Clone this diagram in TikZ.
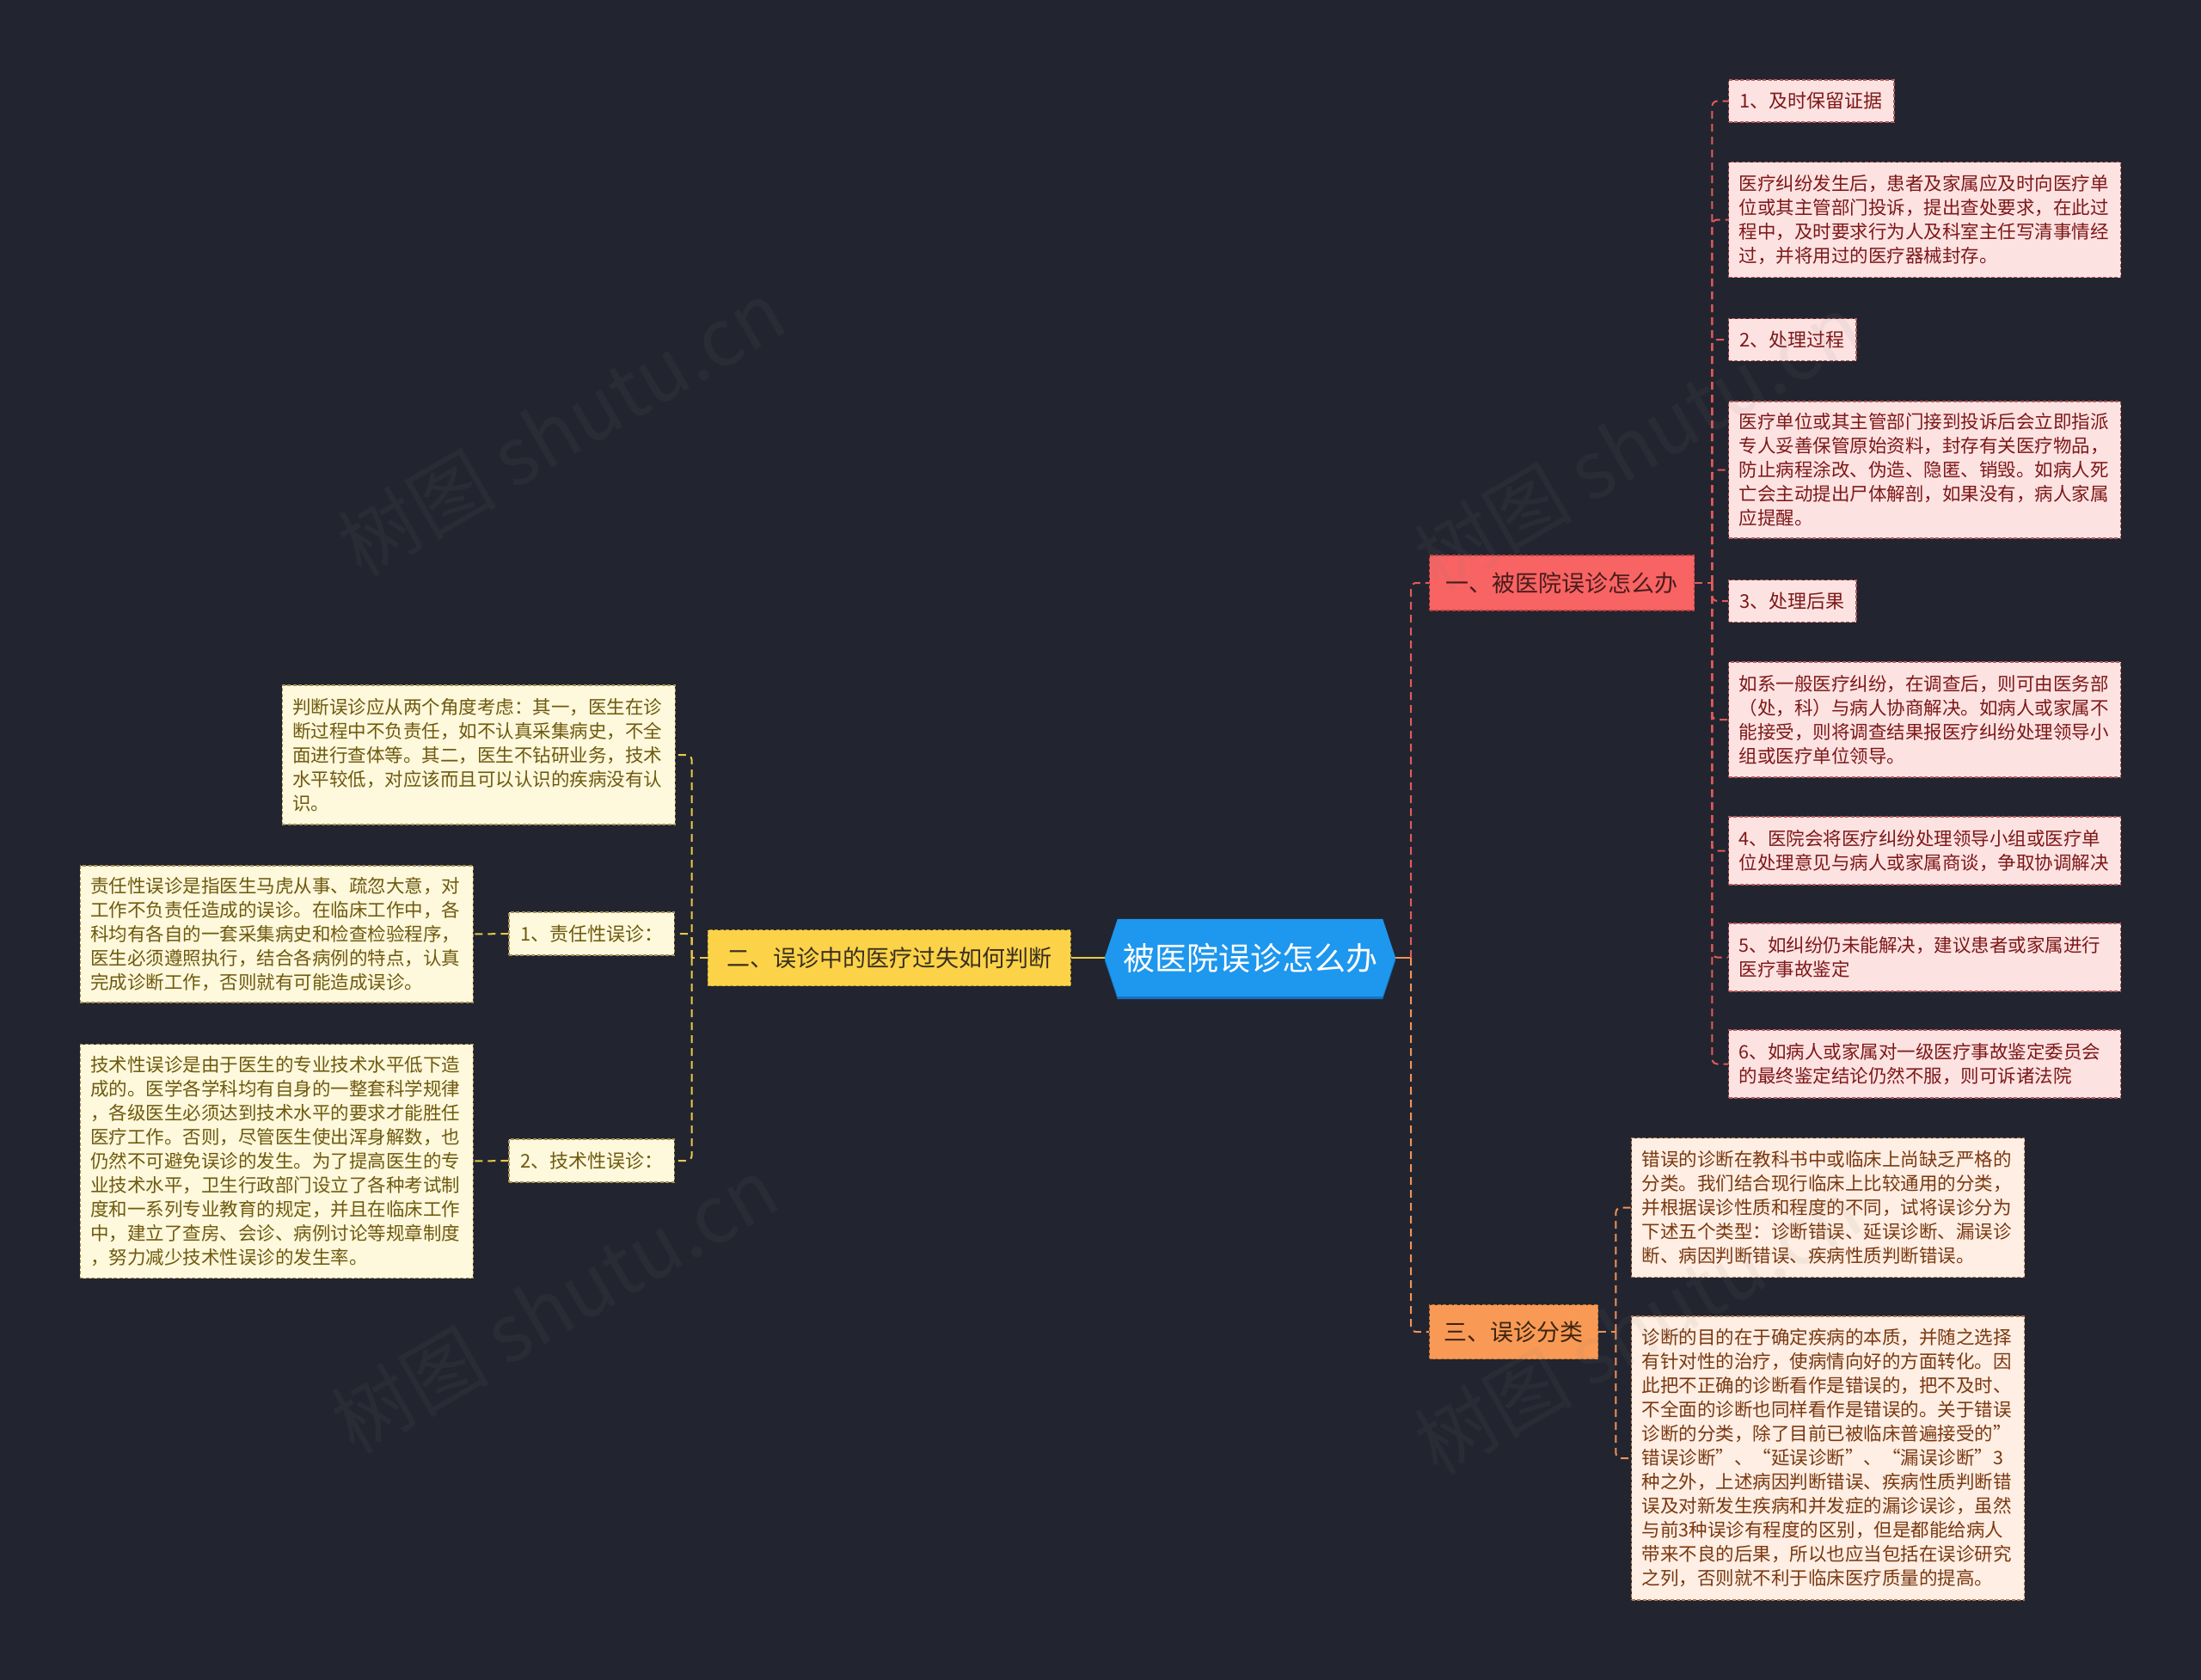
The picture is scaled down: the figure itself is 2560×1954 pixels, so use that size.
\documentclass[tikz,border=0pt]{standalone}
\usepackage{fontspec}
\setmainfont{Noto Sans CJK SC}
\usetikzlibrary{backgrounds,calc}
\definecolor{bgc}{HTML}{22252F}
\definecolor{pkF}{HTML}{FDE2E2}
\definecolor{pkD}{HTML}{B85A5A}
\definecolor{pkT}{HTML}{7D1818}
\definecolor{crF}{HTML}{FEF8DC}
\definecolor{crD}{HTML}{A89050}
\definecolor{crT}{HTML}{6E5A0E}
\definecolor{peF}{HTML}{FEEEE3}
\definecolor{peD}{HTML}{B07850}
\definecolor{peT}{HTML}{7A3810}
\definecolor{redF}{HTML}{F86363}
\definecolor{redD}{HTML}{C43E3E}
\definecolor{redT}{HTML}{4A1C1C}
\definecolor{yelF}{HTML}{FCD348}
\definecolor{yelD}{HTML}{B89A30}
\definecolor{yelT}{HTML}{3A3020}
\definecolor{orF}{HTML}{F89A55}
\definecolor{orD}{HTML}{C07030}
\definecolor{orT}{HTML}{3D2410}
\definecolor{hexF}{HTML}{1E97EE}
\definecolor{hexD}{HTML}{1570C0}
\definecolor{lnR}{HTML}{E45A5A}
\definecolor{lnY}{HTML}{EBC84A}
\definecolor{lnO}{HTML}{F0925A}
\begin{document}
\begin{tikzpicture}[x=1pt,y=-1pt,
  font=\fontsize{21.5}{28}\selectfont,
  bx/.style={draw, line width=1.4pt, dash pattern=on 4pt off 2.5pt, inner sep=0pt, align=left},
  pk/.style={bx, fill=pkF, draw=pkD, text=pkT},
  pkpara/.style={pk, text width=432pt, minimum width=456pt, anchor=west},
  pktitle/.style={pk, font=\fontsize{22}{28}\selectfont, inner xsep=13pt, minimum height=49pt, anchor=west},
  cr/.style={bx, fill=crF, draw=crD, text=crT},
  crpara/.style={cr, text width=433pt, minimum width=457pt, anchor=east},
  crtitle/.style={cr, font=\fontsize{22}{28}\selectfont, inner xsep=13pt, minimum height=50pt, anchor=east},
  pe/.style={bx, fill=peF, draw=peD, text=peT},
  pepara/.style={pe, text width=433pt, minimum width=457pt, anchor=west},
  branch/.style={bx, align=center, font=\fontsize{27}{32}\selectfont},
  link/.style={line width=2pt, dash pattern=on 9pt off 6pt, rounded corners=6pt},
  wm/.style={text=gray, opacity=0.08, font=\fontsize{92}{96}\selectfont, rotate=30}
]
\begin{scope}[on background layer]
\fill[bgc] (0,0) rectangle (2560,1954);
\end{scope}
\path[use as bounding box] (0,0) rectangle (2560,1954);

% center
\node[text=white, font=\fontsize{37}{40}\selectfont, minimum width=338pt, minimum height=90pt, inner sep=0pt] (c) at (1454,1114) {被医院误诊怎么办};
\begin{scope}[on background layer]
\fill[hexD] ($(c.north west)+(15,3)$) -- ($(c.north east)+(-15,3)$) -- ($(c.east)+(0,3)$) -- ($(c.south east)+(-15,3)$) -- ($(c.south west)+(15,3)$) -- ($(c.west)+(0,3)$) -- cycle;
\fill[hexF] ($(c.north west)+(15,0)$) -- ($(c.north east)+(-15,0)$) -- (c.east) -- ($(c.south east)+(-15,0)$) -- ($(c.south west)+(15,0)$) -- (c.west) -- cycle;
\end{scope}

% branches
\node[branch, fill=redF, draw=redD, text=redT, minimum width=308pt, minimum height=64pt, anchor=west] (b1) at (1662,678) {一、被医院误诊怎么办};
\node[branch, fill=yelF, draw=yelD, text=yelT, minimum width=422pt, minimum height=65pt, anchor=east] (b2) at (1246,1114) {二、误诊中的医疗过失如何判断};
\node[branch, fill=orF, draw=orD, text=orT, minimum width=196pt, minimum height=63pt, anchor=west] (b3) at (1662,1549) {三、误诊分类};

% right column (red)
\node[pktitle] (t1) at (2010,117.5) {1、及时保留证据};
\node[pkpara, minimum height=134pt] (p1) at (2010,255.5) {医疗纠纷发生后，患者及家属应及时向医疗单\\位或其主管部门投诉，提出查处要求，在此过\\程中，及时要求行为人及科室主任写清事情经\\过，并将用过的医疗器械封存。};
\node[pktitle] (t2) at (2010,395) {2、处理过程};
\node[pkpara, minimum height=159pt] (p2) at (2010,546.5) {医疗单位或其主管部门接到投诉后会立即指派\\专人妥善保管原始资料，封存有关医疗物品，\\防止病程涂改、伪造、隐匿、销毁。如病人死\\亡会主动提出尸体解剖，如果没有，病人家属\\应提醒。};
\node[pktitle] (t3) at (2010,699) {3、处理后果};
\node[pkpara, minimum height=134pt] (p3) at (2010,837) {如系一般医疗纠纷，在调查后，则可由医务部\\（处，科）与病人协商解决。如病人或家属不\\能接受，则将调查结果报医疗纠纷处理领导小\\组或医疗单位领导。};
\node[pkpara, minimum height=79pt] (p4) at (2010,989.5) {4、医院会将医疗纠纷处理领导小组或医疗单\\位处理意见与病人或家属商谈，争取协调解决};
\node[pkpara, minimum height=79pt] (p5) at (2010,1113.5) {5、如纠纷仍未能解决，建议患者或家属进行\\医疗事故鉴定};
\node[pkpara, minimum height=79pt] (p6) at (2010,1237.5) {6、如病人或家属对一级医疗事故鉴定委员会\\的最终鉴定结论仍然不服，则可诉诸法院};

% left column (yellow)
\node[crpara, minimum height=162pt] (j) at (786,878) {判断误诊应从两个角度考虑：其一，医生在诊\\断过程中不负责任，如不认真采集病史，不全\\面进行查体等。其二，医生不钻研业务，技术\\水平较低，对应该而且可以认识的疾病没有认\\识。};
\node[crtitle] (r1) at (785,1086) {1、责任性误诊：};
\node[crpara, minimum height=159pt] (r1p) at (551,1086.5) {责任性误诊是指医生马虎从事、疏忽大意，对\\工作不负责任造成的误诊。在临床工作中，各\\科均有各自的一套采集病史和检查检验程序，\\医生必须遵照执行，结合各病例的特点，认真\\完成诊断工作，否则就有可能造成误诊。};
\node[crtitle] (r2) at (785,1350) {2、技术性误诊：};
\node[crpara, minimum height=272pt] (r2p) at (551,1350.5) {技术性误诊是由于医生的专业技术水平低下造\\成的。医学各学科均有自身的一整套科学规律\\，各级医生必须达到技术水平的要求才能胜任\\医疗工作。否则，尽管医生使出浑身解数，也\\仍然不可避免误诊的发生。为了提高医生的专\\业技术水平，卫生行政部门设立了各种考试制\\度和一系列专业教育的规定，并且在临床工作\\中，建立了查房、会诊、病例讨论等规章制度\\，努力减少技术性误诊的发生率。};

% lower right (orange)
\node[pepara, minimum height=162pt] (oa) at (1897,1404.5) {错误的诊断在教科书中或临床上尚缺乏严格的\\分类。我们结合现行临床上比较通用的分类，\\并根据误诊性质和程度的不同，试将误诊分为\\下述五个类型：诊断错误、延误诊断、漏误诊\\断、病因判断错误、疾病性质判断错误。};
\node[pepara, minimum height=330pt] (ob) at (1897,1696) {诊断的目的在于确定疾病的本质，并随之选择\\有针对性的治疗，使病情向好的方面转化。因\\此把不正确的诊断看作是错误的，把不及时、\\不全面的诊断也同样看作是错误的。关于错误\\诊断的分类，除了目前已被临床普遍接受的”\\错误诊断”、“延误诊断”、“漏误诊断”3\\种之外，上述病因判断错误、疾病性质判断错\\误及对新发生疾病和并发症的漏诊误诊，虽然\\与前3种误诊有程度的区别，但是都能给病人\\带来不良的后果，所以也应当包括在误诊研究\\之列，否则就不利于临床医疗质量的提高。};

% connectors: center
\coordinate (cs) at ($(c.east)+(18,0)$);
\draw[lnY, line width=2.4pt] (c.west) -- (b2.east);
\draw[lnO, line width=2.4pt] (c.east) -- (cs);
\draw[link, lnR] (cs) |- (b1.west);
\draw[link, lnO] (cs) |- (b3.west);

% red branch
\coordinate (rs) at ($(b1.east)+(20,0)$);
\draw[link, lnR] (b1.east) -- (rs);
\foreach \n in {t1,p1,t2,p2,t3,p3,p4,p5,p6} {\draw[link, lnR] (rs) |- (\n.west);}

% yellow branch
\coordinate (ys) at ($(b2.west)+(-18,0)$);
\draw[link, lnY] (b2.west) -- (ys);
\foreach \n in {j,r1,r2} {\draw[link, lnY] (ys) |- (\n.east);}
\draw[link, lnY] (r1.west) -- (r1p.east);
\draw[link, lnY] (r2.west) -- (r2p.east);

% orange branch
\coordinate (os) at ($(b3.east)+(20,0)$);
\draw[link, lnO] (b3.east) -- (os);
\foreach \n in {oa,ob} {\draw[link, lnO] (os) |- (\n.west);}

% watermarks
\node[wm] (w1) at (653,498) {树图 shutu.cn};
\node[wm] (w2) at (1905,514) {树图 shutu.cn};
\node[wm] (w3) at (645,1518) {树图 shutu.cn};
\node[wm] (w4) at (1905,1543) {树图 shutu.cn};
\end{tikzpicture}
\end{document}
